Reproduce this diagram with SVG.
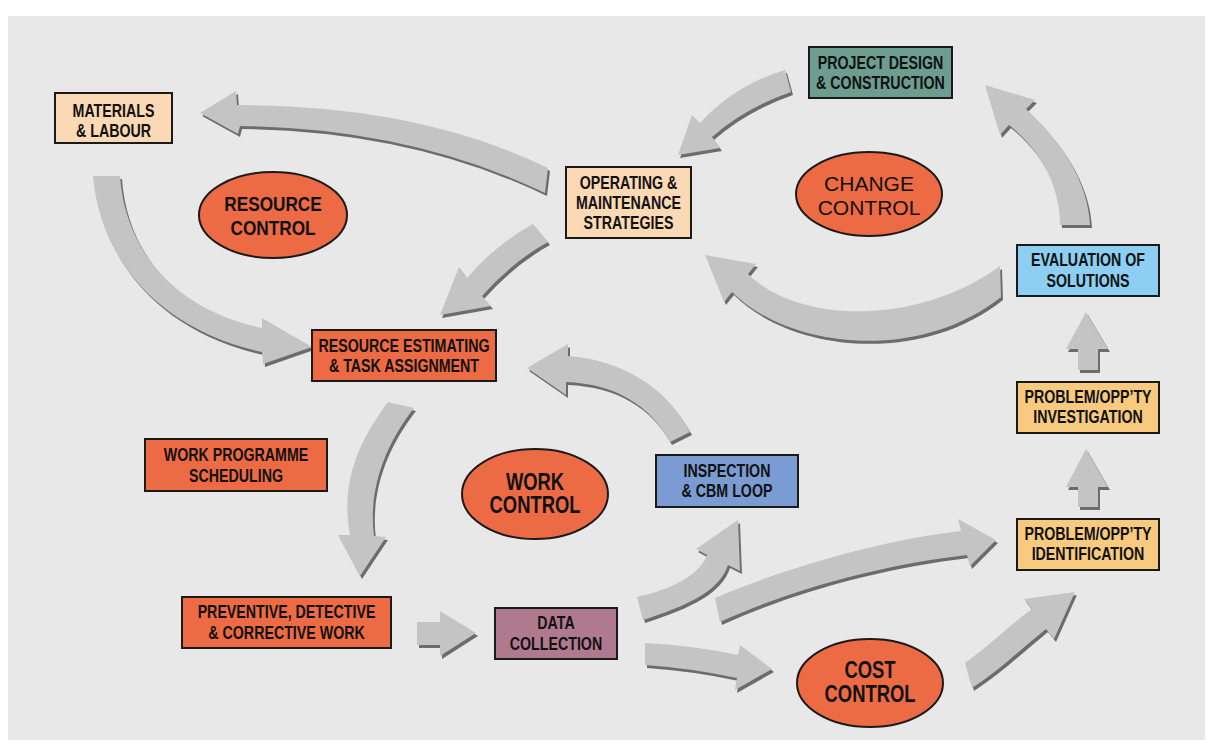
<svg xmlns="http://www.w3.org/2000/svg" xmlns:xlink="http://www.w3.org/1999/xlink" width="1212" height="747" viewBox="0 0 1212 747">
<style>
.box{stroke:#1a1a1a;stroke-width:2}
.ell{fill:#ec6b44;stroke:#1a1a1a;stroke-width:2}
.lb{font-family:"Liberation Sans","Arial",sans-serif;font-weight:bold;font-size:18px;text-anchor:middle;fill:#111;transform-box:fill-box;transform-origin:center;transform:scaleX(0.79)}
.mid{font-size:21px;transform:scaleX(0.82)}
.big{font-size:23px;transform:scaleX(0.8)}
.reg{font-family:"Liberation Sans","Noto Sans",sans-serif;font-weight:normal;font-size:21px;text-anchor:middle;fill:#111}
.ar{fill:#c4c4c4}
.sh{fill:#6c6c6c}
.peach{fill:#fcd9b5}
.orange{fill:#ec6b44}
.teal{fill:#6c9d8e}
.blue{fill:#7b9cd3}
.mauve{fill:#b07a8e}
.sky{fill:#8ccff2}
.yel{fill:#f7ca80}
</style>
<defs>
<path id="aA" d="M200,113 L236,91 L237,105 Q420,105 548,168 L545,193 Q410,128 240,126 L238,134 Z"/>
<path id="aB" d="M312,347 L262,318 L262,328 C175,310 125,250 120,176 L93,176 C100,260 160,330 262,352 L263,364 Z"/>
<path id="aC" d="M440,315 L459,267 L467,278 Q495,245 533,224 L548,242 Q512,262 482,296 L491,306 Z"/>
<path id="aD" d="M678,155 L692,115 L700,123 Q735,85 785,70 L791,92 Q745,108 712,137 L720,148 Z"/>
<path id="aE" d="M705,255 L756,264 L748,274 C800,325 920,325 1000,266 L1001,297 C920,362 790,350 732,292 L724,302 Z"/>
<path id="aF" d="M985,85 L1035,100 L1026,109 C1060,140 1088,180 1090,225 L1060,225 C1060,185 1040,150 1009,125 L1000,135 Z"/>
<path id="aG" d="M360,576 L338,535 L350,535 C340,480 360,440 388,402 L414,408 C385,445 368,490 374,536 L386,537 Z"/>
<path id="aH" d="M476,633 L440,611 L440,622 L417,622 L417,645 L440,645 L440,656 Z"/>
<path id="aI" d="M738,520 L740,571 L728,565 C720,590 690,605 643,620 L637,597 C670,590 700,575 707,555 L696,549 Z"/>
<path id="aJ" d="M527,368 L568,344 L568,356 C620,360 665,385 690,432 L670,442 C650,405 615,384 566,382 L566,395 Z"/>
<path id="aK" d="M996,540 L958,519 L961,531 C880,540 780,570 715,598 L720,622 C790,590 880,565 967,555 L970,566 Z"/>
<path id="aL" d="M772,669 L740,645 L738,655 Q690,645 645,643 L645,665 Q690,668 737,678 L735,690 Z"/>
<path id="aM" d="M1075,592 L1054,639 L1046,629 C1020,650 1000,670 972,688 L965,663 C990,645 1010,625 1032,609 L1024,599 Z"/>
<path id="aN" d="M1086,449 L1108,487 L1098,487 L1098,507 L1078,507 L1078,487 L1066,487 Z"/>
<path id="aO" d="M1086,312 L1108,349 L1098,349 L1098,370 L1078,370 L1078,349 L1066,349 Z"/>
</defs>
<rect x="0" y="0" width="1212" height="747" fill="#ffffff"/>
<rect x="8" y="16" width="1197" height="724" fill="#e8e8e8"/>
<g id="connectors">
<use xlink:href="#aA" class="sh" transform="translate(2,3)"/><use xlink:href="#aA" class="ar"/>
<use xlink:href="#aB" class="sh" transform="translate(2,3)"/><use xlink:href="#aB" class="ar"/>
<use xlink:href="#aC" class="sh" transform="translate(2,3)"/><use xlink:href="#aC" class="ar"/>
<use xlink:href="#aD" class="sh" transform="translate(2,3)"/><use xlink:href="#aD" class="ar"/>
<use xlink:href="#aE" class="sh" transform="translate(2,3)"/><use xlink:href="#aE" class="ar"/>
<use xlink:href="#aF" class="sh" transform="translate(2,3)"/><use xlink:href="#aF" class="ar"/>
<use xlink:href="#aG" class="sh" transform="translate(2,3)"/><use xlink:href="#aG" class="ar"/>
<use xlink:href="#aH" class="sh" transform="translate(2,3)"/><use xlink:href="#aH" class="ar"/>
<use xlink:href="#aI" class="sh" transform="translate(2,3)"/><use xlink:href="#aI" class="ar"/>
<use xlink:href="#aJ" class="sh" transform="translate(2,3)"/><use xlink:href="#aJ" class="ar"/>
<use xlink:href="#aK" class="sh" transform="translate(2,3)"/><use xlink:href="#aK" class="ar"/>
<use xlink:href="#aL" class="sh" transform="translate(2,3)"/><use xlink:href="#aL" class="ar"/>
<use xlink:href="#aM" class="sh" transform="translate(2,3)"/><use xlink:href="#aM" class="ar"/>
<use xlink:href="#aN" class="sh" transform="translate(2,3)"/><use xlink:href="#aN" class="ar"/>
<use xlink:href="#aO" class="sh" transform="translate(2,3)"/><use xlink:href="#aO" class="ar"/>
</g>
<g id="materials"><rect class="box peach" x="55" y="93" width="117" height="50"/><text class="lb" x="113.5" y="117">MATERIALS</text><text class="lb" x="113.5" y="137">&amp; LABOUR</text></g>
<g id="project"><rect class="box teal" x="809" y="47" width="143" height="51"/><text class="lb" x="880.5" y="69">PROJECT DESIGN</text><text class="lb" x="880.5" y="89">&amp; CONSTRUCTION</text></g>
<g id="om"><rect class="box peach" x="566" y="167" width="125" height="71"/><text class="lb" x="628.5" y="189">OPERATING &amp;</text><text class="lb" x="628.5" y="209">MAINTENANCE</text><text class="lb" x="628.5" y="229">STRATEGIES</text></g>
<g id="change"><ellipse class="ell" cx="869" cy="194" rx="73" ry="42"/><text class="reg" x="869" y="191">CHANGE</text><text class="reg" x="869" y="215">CONTROL</text></g>
<g id="resource"><ellipse class="ell" cx="273" cy="215" rx="74" ry="43"/><text class="lb mid" x="273" y="211">RESOURCE</text><text class="lb mid" x="273" y="235">CONTROL</text></g>
<g id="estimating"><rect class="box orange" x="312" y="330" width="184" height="51"/><text class="lb" x="404" y="352">RESOURCE ESTIMATING</text><text class="lb" x="404" y="372">&amp; TASK ASSIGNMENT</text></g>
<g id="scheduling"><rect class="box orange" x="145" y="439" width="182" height="52"/><text class="lb" x="236" y="461">WORK PROGRAMME</text><text class="lb" x="236" y="482">SCHEDULING</text></g>
<g id="work"><ellipse class="ell" cx="535" cy="494" rx="73" ry="45"/><text class="lb big" x="535" y="490">WORK</text><text class="lb big" x="535" y="513">CONTROL</text></g>
<g id="inspection"><rect class="box blue" x="656" y="455" width="142" height="52"/><text class="lb" x="727" y="477">INSPECTION</text><text class="lb" x="727" y="497">&amp; CBM LOOP</text></g>
<g id="preventive"><rect class="box orange" x="182" y="597" width="209" height="51"/><text class="lb" x="286.5" y="618">PREVENTIVE, DETECTIVE</text><text class="lb" x="286.5" y="639">&amp; CORRECTIVE WORK</text></g>
<g id="data"><rect class="box mauve" x="495" y="608" width="122" height="51"/><text class="lb" x="556" y="629">DATA</text><text class="lb" x="556" y="650">COLLECTION</text></g>
<g id="cost"><ellipse class="ell" cx="870" cy="683" rx="73" ry="44"/><text class="lb big" x="870" y="678">COST</text><text class="lb big" x="870" y="702">CONTROL</text></g>
<g id="evaluation"><rect class="box sky" x="1017" y="245" width="142" height="51"/><text class="lb" x="1088" y="266">EVALUATION OF</text><text class="lb" x="1088" y="287">SOLUTIONS</text></g>
<g id="investigation"><rect class="box yel" x="1017" y="382" width="142" height="51"/><text class="lb" x="1088" y="403">PROBLEM/OPP’TY</text><text class="lb" x="1088" y="423">INVESTIGATION</text></g>
<g id="identification"><rect class="box yel" x="1017" y="519" width="142" height="51"/><text class="lb" x="1088" y="540">PROBLEM/OPP’TY</text><text class="lb" x="1088" y="560">IDENTIFICATION</text></g>
</svg>
